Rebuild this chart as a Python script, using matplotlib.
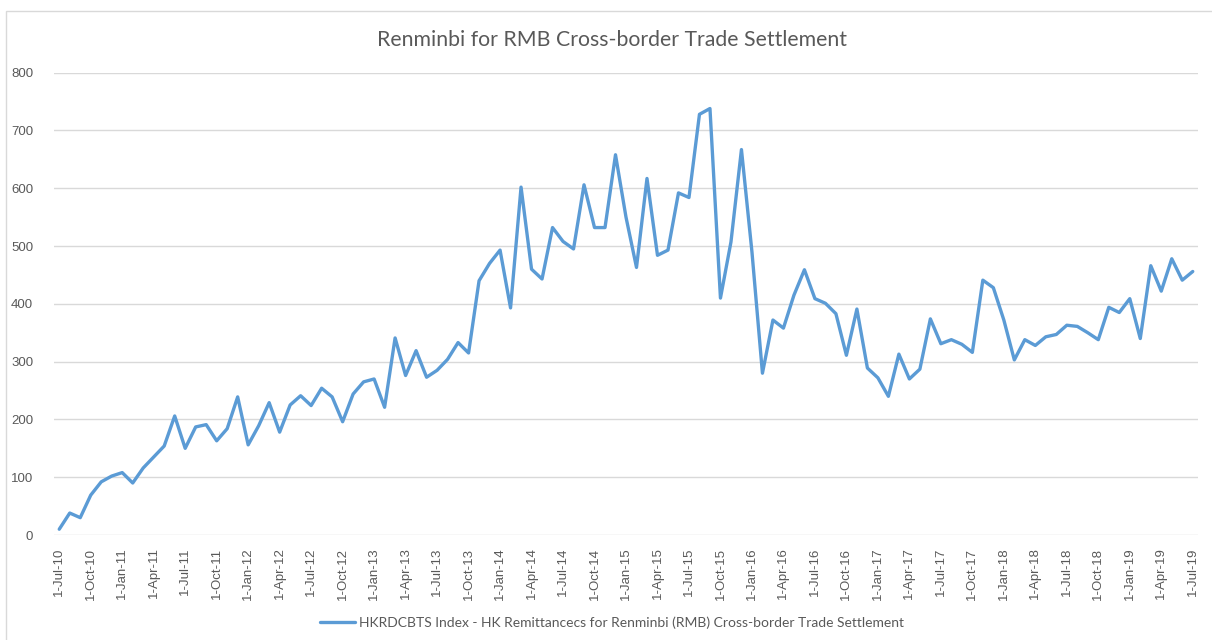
import numpy as np
import pandas as pd
import matplotlib
matplotlib.use("Agg")
import matplotlib.pyplot as plt
from matplotlib.patches import Rectangle

# Monthly settlement values, 1-Jul-10 .. 1-Jul-19 (RMB bn)
start_month = "2010-07-01"
settlement = [
    10, 38, 30, 69, 92, 102, 108, 90, 116, 135, 154, 206,
    150, 187, 191, 163, 184, 239, 156, 189, 229, 178, 225, 241,
    224, 254, 239, 196, 244, 265, 270, 221, 341, 276, 319, 273,
    285, 304, 333, 315, 440, 470, 493, 393, 602, 460, 443, 532,
    508, 495, 606, 532, 532, 658, 550, 463, 617, 484, 493, 592,
    584, 728, 738, 410, 507, 667, 490, 280, 372, 358, 415, 459,
    409, 401, 383, 311, 391, 289, 272, 240, 313, 270, 287, 374,
    331, 338, 330, 316, 441, 428, 372, 303, 338, 328, 343, 347,
    363, 361, 350, 338, 394, 385, 409, 340, 466, 422, 478, 441,
    456,
]
y_ticks = [0, 100, 200, 300, 400, 500, 600, 700, 800]
title = "Renminbi for RMB Cross-border Trade Settlement"
series_name = "HKRDCBTS Index - HK Remittancecs for Renminbi (RMB) Cross-border Trade Settlement"

months = pd.date_range(start_month, periods=len(settlement), freq="MS")
x_pos = np.arange(len(settlement))
tick_idx = x_pos[::3]
tick_labels = [f"{d.day}-{d:%b-%y}" for d in months[::3]]

text_grey = "#595959"
grid_grey = "#D9D9D9"
line_blue = "#5B9BD5"

fig = plt.figure(figsize=(12.12, 6.4), dpi=100)
fig.patch.set_facecolor("white")

# chart frame like the spreadsheet chart area (runs off right/bottom edge)
fig.add_artist(Rectangle((6 / 1212, -0.05), 1.1, (640 - 11) / 640 + 0.05,
                         transform=fig.transFigure, fill=False,
                         edgecolor=grid_grey, linewidth=1.0))

ax = fig.add_axes([54 / 1212, 105 / 640, (1198 - 54) / 1212, (535 - 72.7) / 640])
ax.plot(x_pos, settlement, color=line_blue, linewidth=2.4, solid_joinstyle="round",
        solid_capstyle="round", zorder=3, label=series_name)

ax.set_xlim(-0.5, len(settlement) - 0.5)
ax.set_ylim(0, 800)
ax.set_yticks(y_ticks)
ax.set_yticklabels([str(v) for v in y_ticks], fontsize=9.5, color=text_grey,
                   family="Liberation Sans")
ax.set_xticks(tick_idx)
ax.set_xticklabels(tick_labels, rotation=90, fontsize=9.5, color=text_grey,
                   family="Liberation Sans")
ax.tick_params(axis="both", length=0)
ax.tick_params(axis="y", pad=15)
ax.tick_params(axis="x", pad=9)

ax.grid(axis="y", color=grid_grey, linewidth=1.0, zorder=0)
ax.set_axisbelow(True)
for side in ["left", "right", "top", "bottom"]:
    ax.spines[side].set_visible(False)

fig.text(612 / 1212, 1 - 40 / 640, title, ha="center", va="center",
         fontsize=15.3, color=text_grey, family="Lato")

leg = fig.legend(loc="center", bbox_to_anchor=(612 / 1212, 1 - 623 / 640),
                 frameon=False, prop={"family": "Lato", "size": 10},
                 handlelength=2.5, handletextpad=0.3)
for t in leg.get_texts():
    t.set_color(text_grey)

fig.savefig("out.png", dpi=100)
